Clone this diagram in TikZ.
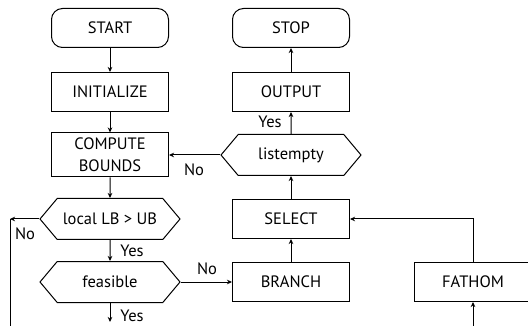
\documentclass[tikz,border=0pt]{standalone}
\usepackage{fontspec}
\setmainfont{PT Sans}
\usetikzlibrary{arrows.meta,shapes.symbols}

\begin{document}
\begin{tikzpicture}[x=1pt,y=-1pt,
  font=\fontsize{16.5}{22}\selectfont,
  line width=1pt,
  >={Stealth[length=5pt,width=4.5pt,inset=1.5pt]},
  proc/.style={draw,minimum width=117pt,minimum height=39pt,inner sep=0pt},
  term/.style={proc,rounded corners=11pt},
  test/.style={draw,signal,signal to=west and east,signal pointer angle=100,
               minimum width=140pt,minimum height=41pt,inner sep=0pt},
  lbl/.style={font=\fontsize{16.5}{16.5}\selectfont,inner sep=1pt}]
\path[use as bounding box,clip] (0,0) rectangle (528,326);
% left column
\node[term] (start) at (110,28) {START};
\node[proc] (init) at (110,92) {INITIALIZE};
\node[proc,minimum height=44pt,align=center] (bounds) at (110,155) {COMPUTE\\BOUNDS};
\node[test] (local) at (110,219) {local LB > UB};
\node[test] (feas) at (110,282) {feasible};
% right column
\node[term] (stop) at (291,28) {STOP};
\node[proc] (output) at (291,92) {OUTPUT};
\node[test] (empty) at (291,155) {listempty};
\node[proc] (select) at (291,219) {SELECT};
\node[proc] (branch) at (291,282) {BRANCH};
\node[proc] (fathom) at (473,282) {FATHOM};
\coordinate (nocorner) at (10,219);
\coordinate (noend) at (10,330);
\coordinate (yesend) at (110,322);
\coordinate (fathomin) at (473,330);
\coordinate (fathomup) at (473,219);
% connectors
\draw[->] (start) -- (init);
\draw[->] (init) -- (bounds);
\draw[->] (bounds) -- (local);
\draw[->] (local) -- (feas);
\draw[->] (feas) -- (yesend);
\draw[->] (local.west) -- (nocorner);
\draw (nocorner) -- (noend);
\draw[->] (feas.east) -- (branch);
\draw[->] (branch) -- (select);
\draw[->] (select) -- (empty);
\draw[->] (empty) -- (output);
\draw[->] (output) -- (stop);
\draw[->] (empty.west) -- (bounds);
\draw[->] (fathom) -- (fathomup) -- (select);
\draw[->] (fathomin) -- (fathom);
% labels
\node[lbl] (yes1) at (132,251) {Yes};
\node[lbl] (yes2) at (132,316) {Yes};
\node[lbl] (no1) at (25,234) {No};
\node[lbl] (no2) at (207,269) {No};
\node[lbl] (no3) at (194,170) {No};
\node[lbl] (yes3) at (270,122) {Yes};
\end{tikzpicture}
\end{document}
